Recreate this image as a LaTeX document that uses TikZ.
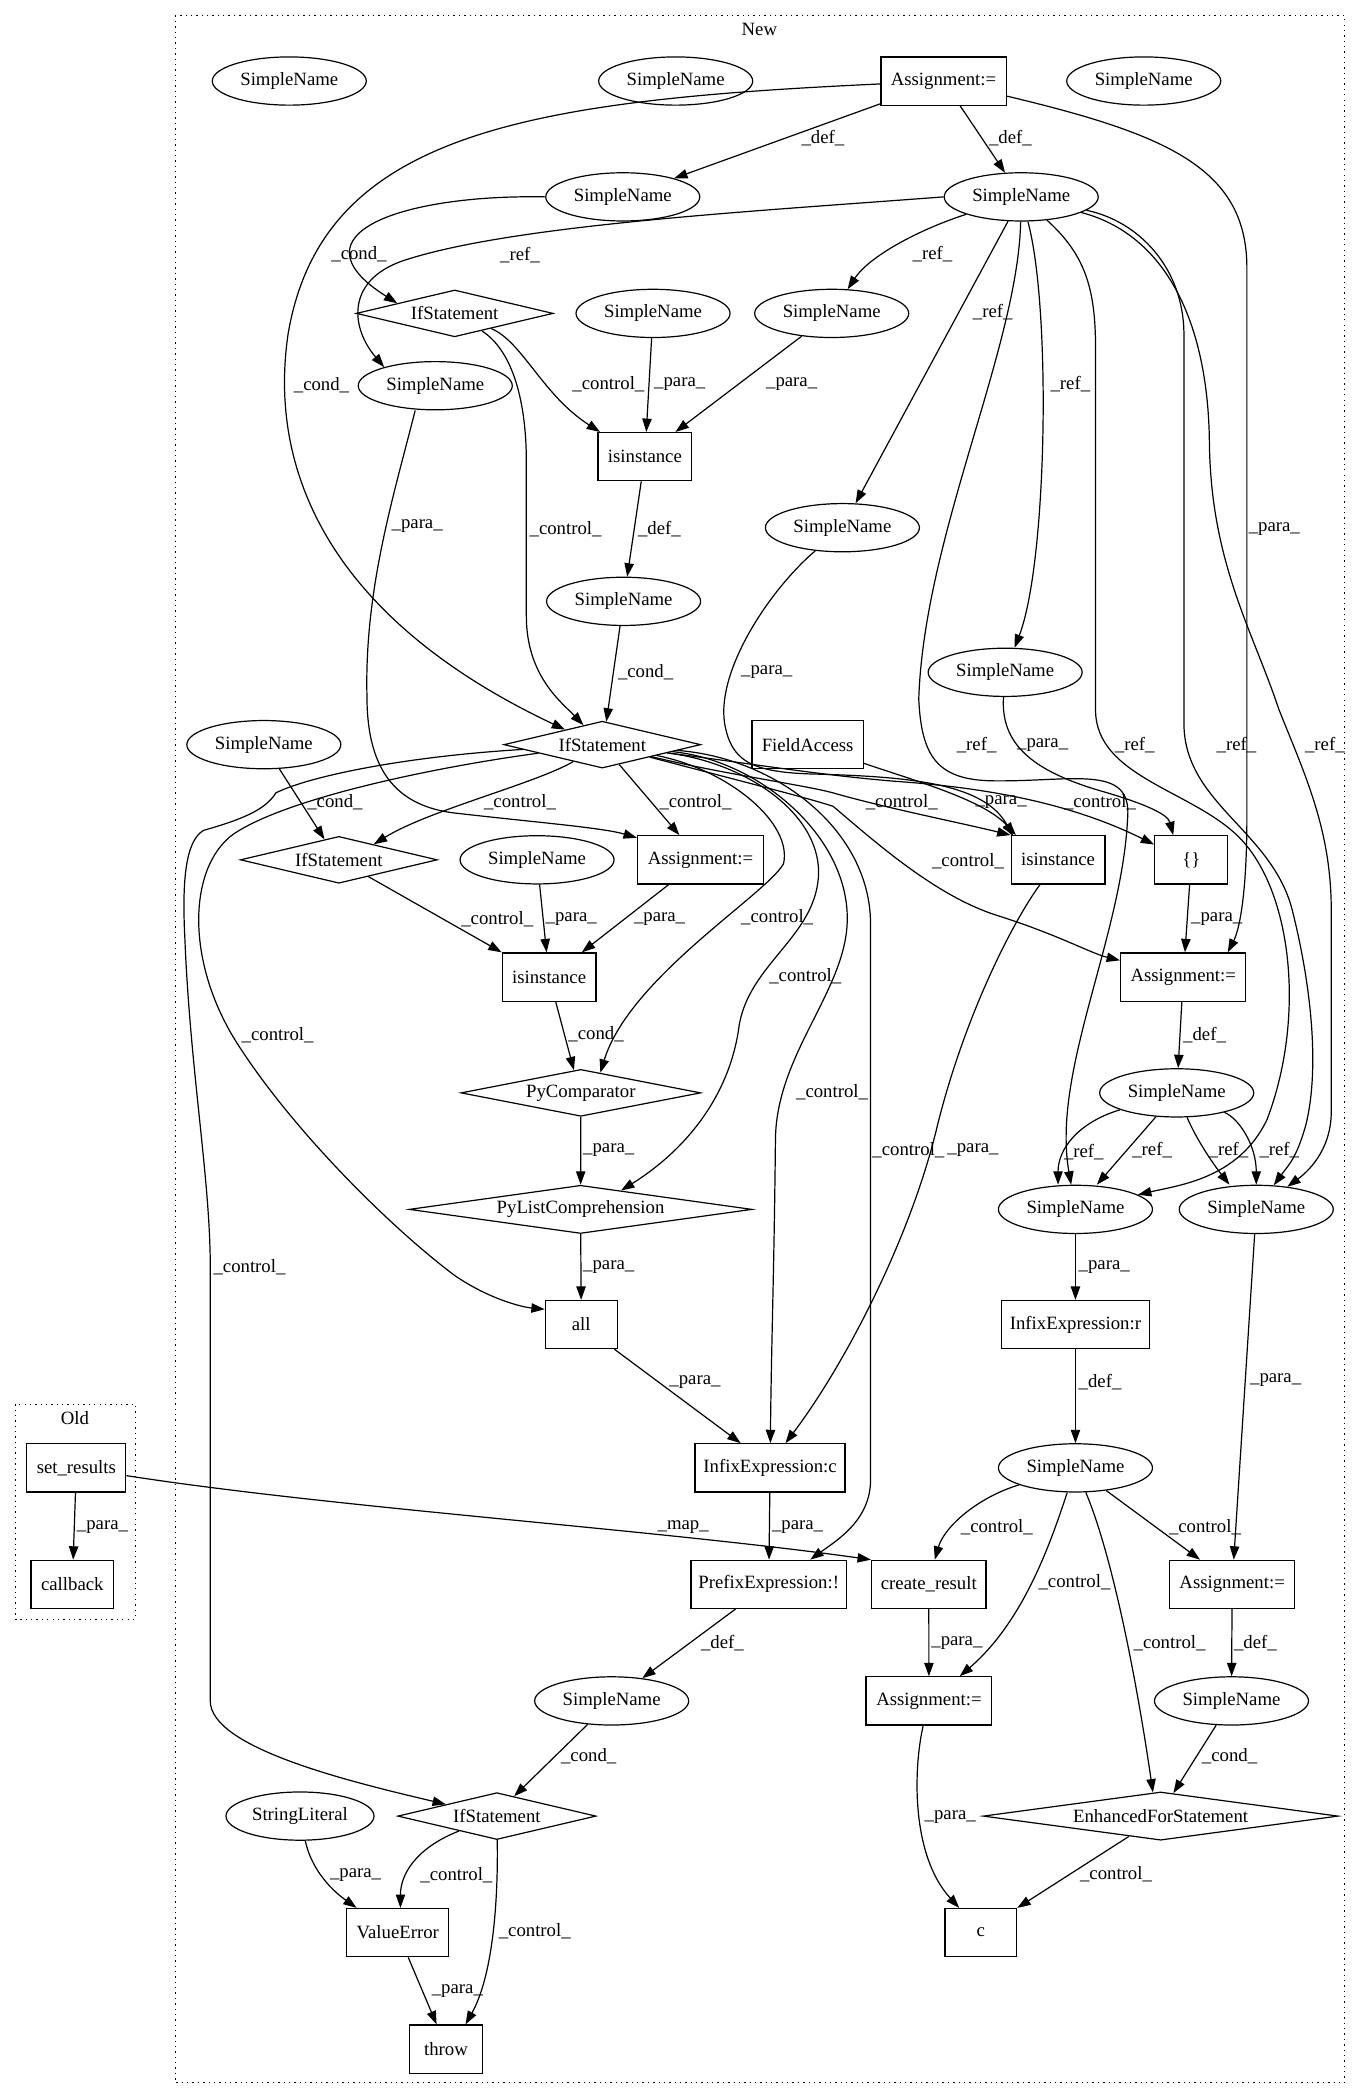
\documentclass[tikz,border=0pt]{standalone}
\usepackage{fontspec}
\setmainfont{Liberation Serif}
\usetikzlibrary{shapes.geometric, arrows.meta}
\tikzset{
  sname/.style={ellipse, draw, line width=0.9pt, minimum width=115pt, minimum height=36pt, inner sep=0pt},
  astbox/.style={rectangle, draw, line width=0.9pt, minimum height=36pt, inner sep=0pt},
  stmt/.style={diamond, draw, line width=0.9pt, minimum width=147pt, minimum height=35pt, aspect=4.2, inner sep=0pt},
  dep/.style={line width=0.9pt, -{Triangle[length=10pt,width=7pt]}},
  lbl/.style={anchor=west, inner sep=0pt},
  cluster/.style={line width=1pt, dash pattern=on 1pt off 3pt}
}
\begin{document}
\begin{tikzpicture}[x=1pt, y=-1pt, font=\fontsize{14}{16}\selectfont]

  % page
  \path[fill=white] (0,0) rectangle (1016,1568);

  % 1. Clusters
  \draw[cluster] (131,11.7) rectangle (1004,1555);
  \node (ttlnew) at (567,22.3) {New};
  \draw[cluster] (11.7,1048.5) rectangle (101,1209);
  \node (ttlold) at (56,1058.6) {Old};

  % 2. Old
  \node[astbox, minimum width=74pt] (setr) at (57,1096) {set\_results};
  \node[astbox, minimum width=61.6pt] (cbk) at (54,1183) {callback};

  % 3. New: nodes, row by row
  \node[sname] (snA) at (216,60.5) {SimpleName};
  \node[sname] (snB) at (504.5,60.5) {SimpleName};
  \node[astbox, minimum width=93.5pt] (asg1) at (704.5,60.5) {Assignment:=};
  \node[sname] (snC) at (854,60.5) {SimpleName};

  \node[sname] (snD) at (465,147) {SimpleName};
  \node[sname] (snE) at (762.5,147) {SimpleName};

  \node[stmt] (if1) at (339.5,234) {IfStatement};
  \node[sname] (snF) at (487.6,234) {SimpleName};
  \node[sname] (snG) at (621,234) {SimpleName};
  \node[sname] (snH) at (325,288) {SimpleName};
  \node[astbox, minimum width=70pt] (isi1) at (481.5,341) {isinstance};
  \node[sname] (snI) at (629,394) {SimpleName};
  \node[sname] (snJ) at (465.6,449) {SimpleName};
  \node[sname] (snK) at (750.5,502) {SimpleName};

  \node[sname] (snL) at (197,556) {SimpleName};
  \node[stmt] (if2) at (449.7,556) {IfStatement};
  \node[astbox, minimum width=83pt] (fld) at (603,556) {FieldAccess};

  \node[stmt] (if3) at (253,642) {IfStatement};
  \node[sname] (snM) at (401,642) {SimpleName};
  \node[astbox, minimum width=94pt] (asg2) at (523,642) {Assignment:=};
  \node[astbox, minimum width=70pt] (isi2) at (790,642) {isinstance};
  \node[astbox, minimum width=54.6pt] (brc) at (889.5,642) {\{\}};

  \node[astbox, minimum width=70pt] (isi3) at (410,729.5) {isinstance};
  \node[astbox, minimum width=93.5pt] (asg3) at (883.5,729.5) {Assignment:=};

  \node[stmt, minimum width=179pt, aspect=5] (pycmp) at (433.7,816) {PyComparator};
  \node[sname] (snN) at (878.6,816) {SimpleName};

  \node[stmt, minimum width=256pt, minimum height=36pt, aspect=7] (pylc) at (433.5,903) {PyListComprehension};
  \node[sname] (snO) at (803,903) {SimpleName};
  \node[sname] (snP) at (938,903) {SimpleName};

  \node[astbox, minimum width=53.6pt] (allc) at (434,989) {all};
  \node[astbox, minimum width=110pt] (infr) at (803,989) {InfixExpression:r};

  \node[astbox, minimum width=112pt] (infc) at (575,1096) {InfixExpression:c};
  \node[sname] (snR) at (803,1096) {SimpleName};

  \node[astbox, minimum width=116pt] (prefx) at (574,1183) {PrefixExpression:!};
  \node[astbox, minimum width=85.5pt] (crt) at (693.5,1183) {create\_result};
  \node[astbox, minimum width=93.5pt] (asg4) at (920,1183) {Assignment:=};

  \node[sname] (snQ) at (456.7,1270) {SimpleName};
  \node[astbox, minimum width=94pt] (asg5) at (693.6,1270) {Assignment:=};
  \node[sname] (snS) at (919.5,1270) {SimpleName};

  \node[sname, minimum width=110.5pt] (strl) at (224,1356) {StringLiteral};
  \node[stmt, minimum width=148pt] (if4) at (371,1356) {IfStatement};
  \node[stmt, minimum width=265pt, minimum height=36pt, aspect=7.3] (efor) at (866.6,1356) {EnhancedForStatement};

  \node[astbox, minimum width=76pt] (verr) at (297,1443) {ValueError};
  \node[astbox, minimum width=53.5pt] (cnode) at (732.4,1443) {c};
  \node[astbox, minimum width=54.6pt] (thr) at (333,1530) {throw};

  % 4. Old edges
  \draw[dep] (setr) -- (cbk) node[lbl] (l1) at (57,1140) {\_para\_};
  \draw[dep] (setr) .. controls (250,1126) and (490,1142) .. (crt.north west) node[lbl] (l2) at (490.6,1140) {\_map\_};

  % 5. Assignment on top
  \draw[dep] (asg1) -- (snD) node[lbl] (l3) at (598,103) {\_def\_};
  \draw[dep] (asg1) -- (snE) node[lbl] (l4) at (738,103) {\_def\_};
  \draw[dep] (asg1) .. controls (390,75) and (240,100) .. (215,250) .. controls (208,300) and (200,440) .. (if2.158) node[lbl] (l5) at (219,287.5) {\_cond\_};
  \draw[dep] (asg1) .. controls (870,100) and (931,125) .. (931,200) -- (931,610) .. controls (931,670) and (925,695) .. ([xshift=-14pt]asg3.north east) node[lbl] (l6) at (932,395) {\_para\_};

  % 6. upper SimpleNames
  \draw[dep] (snD.west) .. controls (300,145) and (215,175) .. (if1.170) node[lbl] (l7) at (247,190) {\_cond\_};
  \draw[dep] (snE.west) .. controls (560,158) and (380,168) .. (300,195) .. controls (258,210) and (262,245) .. (snH.160) node[lbl] (l8) at (373,190.5) {\_ref\_};
  \draw[dep] (snE) .. controls (690,170) and (650,190) .. (snG) node[lbl] (l9) at (681,190) {\_ref\_};
  \draw[dep] (snE) -- (snI) node[lbl] (l10) at (726,233) {\_ref\_};
  \draw[dep] (snE) .. controls (785,230) and (782,420) .. (snK) node[lbl] (l11) at (784,287) {\_ref\_};
  \draw[dep] (snE) .. controls (760,260) and (690,400) .. (686,522) .. controls (688,565) and (700,582) .. (740,583) .. controls (800,584) and (845,570) .. (842,610) .. controls (838,700) and (785,800) .. (snO) node[lbl] (l12) at (714,556) {\_ref\_};
  \draw[dep] (snE) .. controls (810,190) and (818,215) .. (818,260) -- (818,530) .. controls (818,580) and (890,590) .. (925,625) .. controls (965,665) and (975,760) .. (946,836) .. controls (925,880) and (880,885) .. (snO) node[lbl] (l13) at (832,556) {\_ref\_};
  \draw[dep] (snE) .. controls (850,165) and (884,200) .. (884,250) -- (884,540) .. controls (884,600) and (950,620) .. (965,680) .. controls (980,740) and (985,800) .. (975,840) .. controls (968,865) and (962,870) .. (snP) node[lbl] (l14) at (908,556) {\_ref\_};
  \draw[dep] (snE) .. controls (870,175) and (902,240) .. (903,330) .. controls (904,420) and (935,470) .. (955,530) .. controls (975,580) and (994,620) .. (994,680) -- (994,830) .. controls (994,860) and (975,876) .. (snP) node[lbl] (l15) at (974,556) {\_ref\_};

  % 7. first IfStatement and isinstance
  \draw[dep] (if1) .. controls (390,255) and (405,295) .. ([xshift=2pt]isi1.north west) node[lbl] (l16) at (427,286.6) {\_control\_};
  \draw[dep] (if1) .. controls (383,262) and (393,300) .. (393,345) -- (393,460) .. controls (393,505) and (420,525) .. (if2.134) node[lbl] (l17) at (395,395) {\_control\_};
  \draw[dep] (snF) -- (isi1) node[lbl] (l18) at (488,286.6) {\_para\_};
  \draw[dep] (snG) -- ([xshift=-12.6pt]isi1.north east) node[lbl] (l19) at (571.6,286.6) {\_para\_};
  \draw[dep] (isi1) -- (snJ) node[lbl] (l20) at (476,395) {\_def\_};
  \draw[dep] (snJ) -- (if2.80) node[lbl] (l21) at (461,501.6) {\_cond\_};
  \draw[dep] ([xshift=-15pt]snH.south) .. controls (294,370) and (272,440) .. (274,520) .. controls (274,580) and (300,602) .. (339,607) .. controls (400,614) and (450,618) .. ([yshift=-2pt]asg2.north west) node[lbl] (l22) at (292,393) {\_para\_};
  \draw[dep] (snI) .. controls (575,440) and (535,500) .. (541,540) .. controls (546,568) and (560,577) .. (610,578) .. controls (680,580) and (735,585) .. ([xshift=2pt,yshift=-1pt]isi2.north west) node[lbl] (l27) at (553,502) {\_para\_};

  % 8. second IfStatement controls
  \draw[dep] (if2) .. controls (400,585) and (320,605) .. (if3.24) node[lbl] (l23) at (361,599) {\_control\_};
  \draw[dep] (if2) -- (asg2) node[lbl] (l24) at (492,599) {\_control\_};
  \draw[dep] (if2) .. controls (540,578) and (600,586) .. (622,592) .. controls (660,603) and (720,615) .. (isi2.north west) node[lbl] (l25) at (646,599) {\_control\_};
  \draw[dep] (fld) .. controls (690,585) and (735,598) .. ([xshift=4pt]isi2.north west) node[lbl] (l26) at (728,599) {\_para\_};
  \draw[dep] (if2) .. controls (560,570) and (620,580) .. (677,584) .. controls (740,589) and (800,600) .. ([yshift=-7pt]brc.north west) node[lbl] (l28) at (794,599) {\_control\_};
  \draw[dep] (if2) .. controls (560,585) and (600,595) .. (622,602) .. controls (655,630) and (700,670) .. (746,684) .. controls (790,698) and (815,712) .. ([yshift=-6pt]asg3.north west) node[lbl] (l29) at (695.5,643) {\_control\_};
  \draw[dep] (snK) .. controls (747,555) and (770,575) .. (820,590) .. controls (855,600) and (872,608) .. ([xshift=-13.5pt]brc.north) node[lbl] (l30) at (759,556) {\_para\_};
  \draw[dep] (if2) .. controls (545,575) and (592,615) .. (585,645) .. controls (572,668) and (470,730) .. (pycmp.46) node[lbl] (l31) at (553,685) {\_control\_};
  \draw[dep] (if2) .. controls (560,570) and (615,610) .. (611,656) .. controls (607,700) and (560,720) .. (552,765) .. controls (545,820) and (510,860) .. (pylc.25) node[lbl] (l32) at (574,729) {\_control\_};
  \draw[dep] (if2) .. controls (570,568) and (640,630) .. (632,696) .. controls (626,745) and (580,790) .. (579,850) .. controls (578,950) and (576,1000) .. (infc) node[lbl] (l33) at (594,815.8) {\_control\_};
  \draw[dep] (if2) .. controls (580,566) and (650,620) .. (650,690) -- (650,1105) .. controls (650,1135) and (625,1150) .. ([xshift=31pt]prefx.north) node[lbl] (l34) at (651,859) {\_control\_};
  \draw[dep] (if2) .. controls (330,572) and (215,595) .. (174,623) .. controls (140,648) and (138,720) .. (179,782) .. controls (220,845) and (290,915) .. (339,952) .. controls (365,970) and (390,976) .. ([yshift=-7pt]allc.north west) node[lbl] (l35) at (180,773) {\_control\_};
  \draw[dep] (if2) .. controls (300,565) and (230,580) .. (206,592) .. controls (198,605) and (180,612) .. (152,620) .. controls (138,628) and (136,660) .. (138,700) .. controls (142,800) and (157,880) .. (157,946) -- (157,1270) .. controls (157,1305) and (260,1330) .. (if4.167) node[lbl] (l36) at (159,946) {\_control\_};

  % 9. third IfStatement and the list comprehension
  \draw[dep] (snL) -- (if3.125) node[lbl] (l37) at (229,599) {\_cond\_};
  \draw[dep] (if3) -- (isi3.north west) node[lbl] (l38) at (344,686) {\_control\_};
  \draw[dep] (snM) -- (isi3) node[lbl] (l39) at (407,686) {\_para\_};
  \draw[dep] (asg2) -- ([xshift=-11pt]isi3.north east) node[lbl] (l40) at (473,686) {\_para\_};
  \draw[dep] (isi3) -- (pycmp.107) node[lbl] (l41) at (424,772.5) {\_cond\_};
  \draw[dep] (pycmp) -- (pylc) node[lbl] (l42) at (435,859) {\_para\_};
  \draw[dep] (pylc) -- (allc) node[lbl] (l43) at (435,946) {\_para\_};
  \draw[dep] (allc) -- ([xshift=-22pt]infc.north) node[lbl] (l44) at (499.4,1032) {\_para\_};
  \draw[dep] (isi2) .. controls (755,690) and (720,760) .. (700,840) .. controls (680,925) and (630,1020) .. ([xshift=11.5pt]infc.north) node[lbl] (l45) at (707,859) {\_para\_};

  % 10. negation and raise
  \draw[dep] (infc) -- (prefx) node[lbl] (l46) at (576,1140) {\_para\_};
  \draw[dep] (prefx) -- (snQ) node[lbl] (l47) at (523,1226.5) {\_def\_};
  \draw[dep] (snQ) -- (if4.49) node[lbl] (l48) at (418.5,1311.6) {\_cond\_};
  \draw[dep] (if4) .. controls (310,1380) and (299,1400) .. ([xshift=2pt]verr.north) node[lbl] (l49) at (313.5,1400) {\_control\_};
  \draw[dep] (if4) .. controls (372,1420) and (368,1475) .. ([xshift=14.6pt]thr.north) node[lbl] (l50) at (372,1441.6) {\_control\_};
  \draw[dep] (strl) .. controls (233,1398) and (250,1413) .. ([xshift=-30.7pt]verr.north) node[lbl] (l51) at (246,1400) {\_para\_};
  \draw[dep] (verr) -- ([xshift=-7pt]thr.north) node[lbl] (l52) at (322,1486.7) {\_para\_};

  % 11. right column
  \draw[dep] (brc) -- (asg3) node[lbl] (l53) at (889,686) {\_para\_};
  \draw[dep] (asg3) -- (snN) node[lbl] (l54) at (883,772.5) {\_def\_};
  \draw[dep] (snN) .. controls (805,838) and (790,858) .. ([xshift=-13pt]snO.north) node[lbl] (l55) at (794,860) {\_ref\_};
  \draw[dep] (snN) -- ([xshift=16pt]snO.north) node[lbl] (l56) at (845,859) {\_ref\_};
  \draw[dep] (snN) .. controls (893,850) and (905,868) .. ([xshift=-20pt]snP.north) node[lbl] (l57) at (902,859) {\_ref\_};
  \draw[dep] (snN) .. controls (925,835) and (938,855) .. (snP.north) node[lbl] (l58) at (940,859) {\_ref\_};
  \draw[dep] (snO) -- (infr) node[lbl] (l59) at (805,946) {\_para\_};
  \draw[dep] (infr) -- (snR) node[lbl] (l60) at (805,1032) {\_def\_};
  \draw[dep] (snP) -- (asg4) node[lbl] (l61) at (933,1030.8) {\_para\_};
  \draw[dep] (snR) .. controls (730,1118) and (705,1140) .. ([xshift=4.5pt]crt.north) node[lbl] (l62) at (717,1140) {\_control\_};
  \draw[dep] (snR) .. controls (785,1150) and (765,1210) .. ([xshift=23pt]asg5.north) node[lbl] (l63) at (775,1181.7) {\_control\_};
  \draw[dep] (snR) .. controls (830,1160) and (848,1250) .. (efor.108) node[lbl] (l64) at (846,1226.7) {\_control\_};
  \draw[dep] (snR) -- ([xshift=-24pt]asg4.north) node[lbl] (l65) at (872.4,1140) {\_control\_};
  \draw[dep] (crt) -- (asg5) node[lbl] (l66) at (695,1226.7) {\_para\_};
  \draw[dep] (asg4) -- (snS) node[lbl] (l67) at (921,1226.7) {\_def\_};
  \draw[dep] (snS) -- (efor.61) node[lbl] (l68) at (897,1311.6) {\_cond\_};
  \draw[dep] (asg5) .. controls (682,1320) and (680,1385) .. ([xshift=11pt]cnode.north west) node[lbl] (l69) at (690,1356.7) {\_para\_};
  \draw[dep] (efor) -- (cnode.north east) node[lbl] (l70) at (806,1399.7) {\_control\_};

\end{tikzpicture}
\end{document}
